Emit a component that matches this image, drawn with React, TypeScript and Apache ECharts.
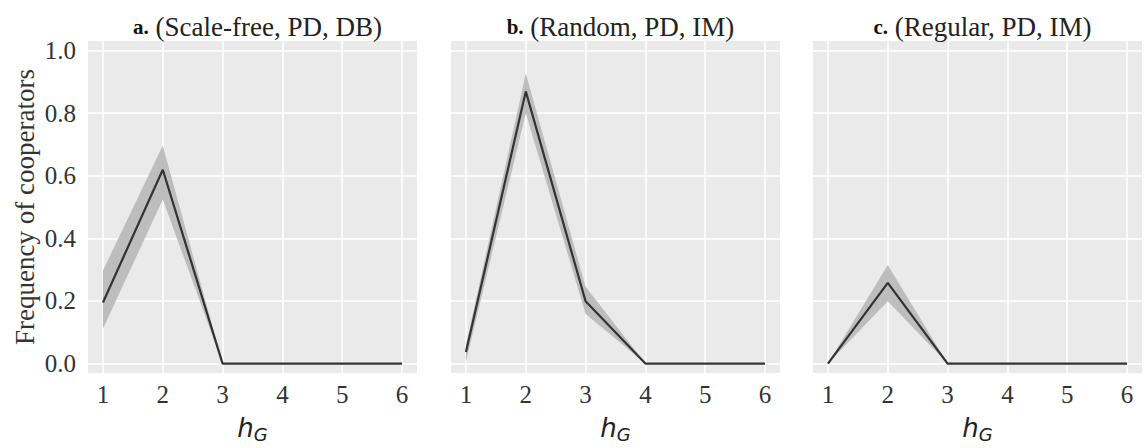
import React, { useEffect, useRef } from "react";
import * as echarts from "echarts";

const hValues = [1, 2, 3, 4, 5, 6];
const yTicks = [0, 0.2, 0.4, 0.6, 0.8, 1.0];

const panelLetters = ["a.", "b.", "c."];
const panelTitles = ["(Scale-free, PD, DB)", "(Random, PD, IM)", "(Regular, PD, IM)"];

const meanA = [0.195, 0.619, 0, 0, 0, 0];
const lowA = [0.111, 0.524, 0, 0, 0, 0];
const highA = [0.297, 0.696, 0, 0, 0, 0];

const meanB = [0.037, 0.869, 0.199, 0, 0, 0];
const lowB = [0.006, 0.8, 0.158, 0, 0, 0];
const highB = [0.06, 0.926, 0.245, 0, 0, 0];

const meanC = [0, 0.258, 0, 0, 0, 0];
const lowC = [0, 0.199, 0, 0, 0, 0];
const highC = [0, 0.315, 0, 0, 0, 0];

const panels = [
  { mean: meanA, low: lowA, high: highA },
  { mean: meanB, low: lowB, high: highB },
  { mean: meanC, low: lowC, high: highC },
];

const gridLefts = [88, 451, 813];
const gridWidth = 329;
const gridTop = 41;
const gridHeight = 342;

const SERIF = "Liberation Serif";
const SANS = "DejaVu Sans";

export default function App() {
  const ref = useRef<HTMLDivElement>(null);
  useEffect(() => {
    document.body.style.margin = "0";
    const chart = echarts.init(ref.current!, null, { renderer: "svg" });
    const grids = gridLefts.map((l) => ({ left: l, top: gridTop, width: gridWidth, height: gridHeight, show: true, backgroundColor: "#EAEAEA", borderWidth: 0 }));
    const xAxes = gridLefts.map((_, i) => ({
      type: "value",
      gridIndex: i,
      min: 0.75,
      max: 6.25,
      name: "{h|h}{g|G}",
      nameLocation: "middle",
      nameGap: 40,
      nameTextStyle: {
        rich: {
          h: { fontFamily: SANS, fontStyle: "italic", fontSize: 26, color: "#222" },
          g: { fontFamily: SANS, fontStyle: "italic", fontSize: 18, color: "#222", verticalAlign: "bottom", padding: [12, 0, 0, 0] },
        },
      },
      axisLine: { show: false },
      axisTick: { show: false, customValues: hValues },
      axisLabel: { customValues: hValues, margin: 9, fontFamily: SERIF, fontSize: 25, color: "#333" },
      splitLine: { show: true, lineStyle: { color: "#ffffff", width: 1.5 } },
    }));
    const yAxes = gridLefts.map((_, i) => ({
      type: "value",
      gridIndex: i,
      min: -0.03,
      max: 1.03,
      name: i === 0 ? "Frequency of cooperators" : "",
      nameLocation: "middle",
      nameGap: 50,
      nameTextStyle: { fontFamily: SERIF, fontSize: 27, color: "#333" },
      axisLine: { show: false },
      axisTick: { show: false, customValues: yTicks },
      axisLabel: {
        show: i === 0,
        customValues: yTicks,
        margin: 12,
        fontFamily: SERIF,
        fontSize: 25,
        color: "#333",
        formatter: (v: number) => v.toFixed(1),
      },
      splitLine: { show: true, lineStyle: { color: "#ffffff", width: 1.5 } },
    }));
    const series: any[] = [];
    panels.forEach((p, i) => {
      series.push({
        type: "custom",
        xAxisIndex: i,
        yAxisIndex: i,
        silent: true,
        z: 2,
        data: hValues.map((x, k) => [x, p.low[k], p.high[k]]),
        renderItem: (params: any, api: any) => {
          if (params.dataIndex !== 0) return null;
          const upper = hValues.map((x, k) => api.coord([x, p.high[k]]));
          const lower = hValues.map((x, k) => api.coord([x, p.low[k]])).reverse();
          return {
            type: "polygon",
            shape: { points: upper.concat(lower) },
            style: { fill: "#BDBDBD", stroke: "none" },
          };
        },
      });
      series.push({
        type: "line",
        xAxisIndex: i,
        yAxisIndex: i,
        data: hValues.map((x, k) => [x, p.mean[k]]),
        lineStyle: { color: "#333333", width: 2.2 },
        symbol: "none",
        z: 5,
      });
    });
    const titles = gridLefts.map((l, i) => ({
      text: "{b|" + panelLetters[i] + "} " + panelTitles[i],
      left: l + gridWidth / 2,
      textAlign: "center",
      top: 8,
      textStyle: {
        fontFamily: SERIF,
        fontWeight: "normal",
        fontSize: 27,
        color: "#222",
        rich: { b: { fontFamily: SERIF, fontWeight: "bold", fontSize: 21, color: "#111" } },
      },
    }));
    chart.setOption({
      animation: false,
      backgroundColor: "#ffffff",
      title: titles,
      grid: grids,
      xAxis: xAxes,
      yAxis: yAxes,
      series,
    });
    return () => chart.dispose();
  }, []);
  return <div ref={ref} style={{ width: 1146, height: 448 }} />;
}
